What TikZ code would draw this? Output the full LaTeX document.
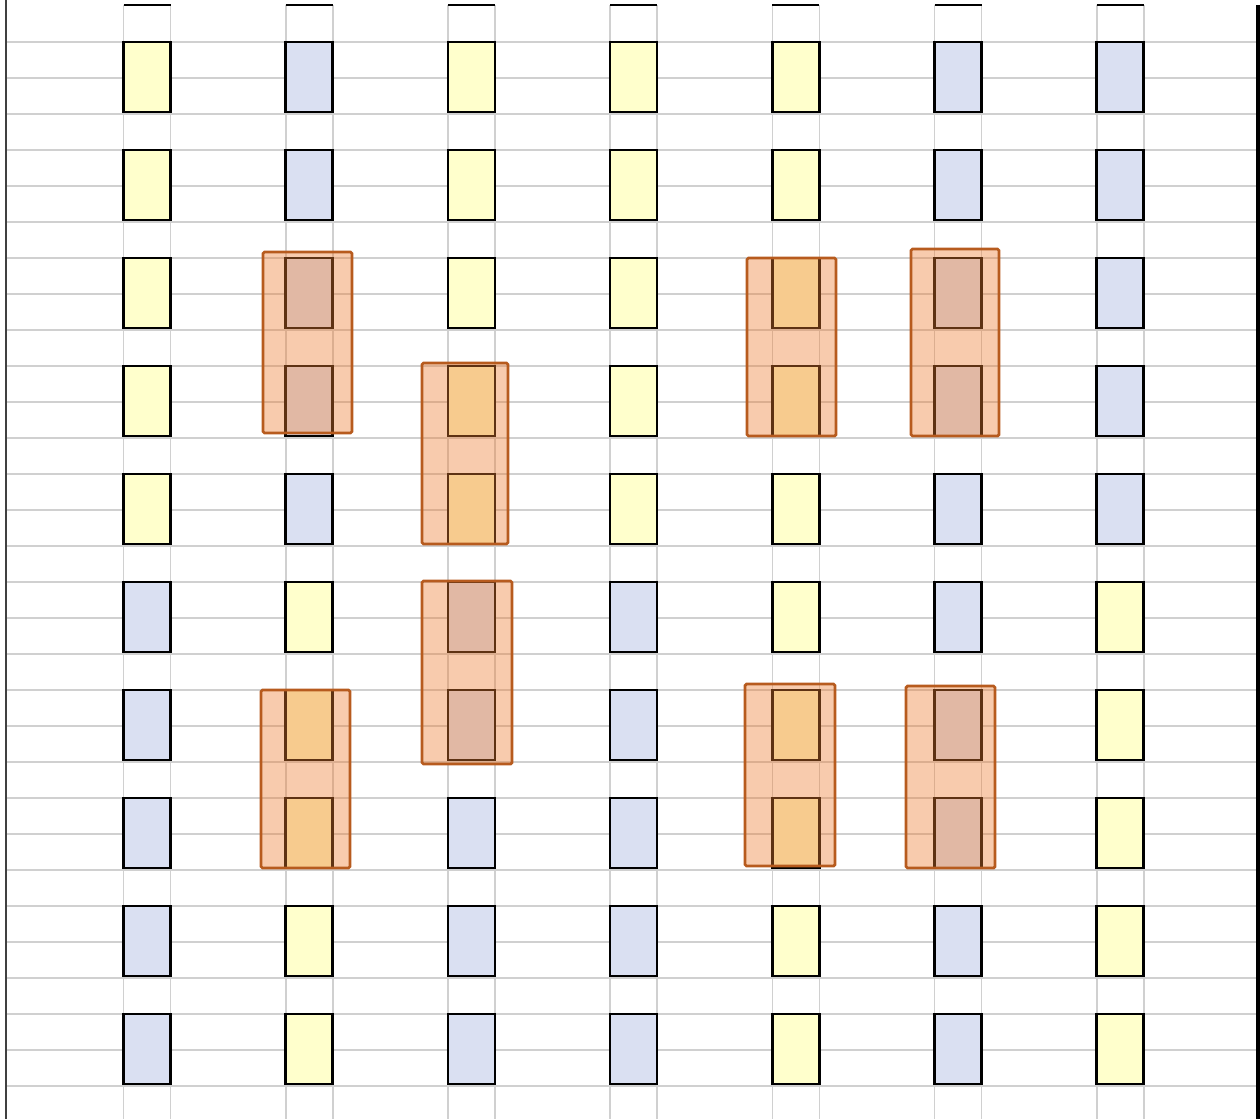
\documentclass[tikz,border=0pt]{standalone}
\usepackage{tikz}
\definecolor{celllemon}{HTML}{FFFFCC}
\definecolor{cellblue}{HTML}{DAE0F2}
\definecolor{gridgray}{HTML}{D0D0D0}
\definecolor{pickorange}{HTML}{ED7D31}
\definecolor{pickedge}{HTML}{B75B1E}
\tikzset{
  cell/.style={draw=black, line width=2.7pt, minimum width=47pt, minimum height=70pt, inner sep=0pt, fill=#1},
  gridline/.style={draw=gridgray, line width=1.6pt},
  pick/.style={fill=pickorange, fill opacity=0.4, draw=pickedge, line width=2.8pt, rounded corners=1.5pt},
}

\begin{document}
\begin{tikzpicture}[x=1pt, y=-1pt]
  \useasboundingbox (0,0) rectangle (1260,1119);
  % sheet grid
  \foreach \k in {0,...,29} { \draw[gridline] (7,42+36*\k) -- (1256,42+36*\k); }
  \foreach \c in {0,...,6} {
    \draw[gridline] (147+162.2*\c-23.5,5) -- (147+162.2*\c-23.5,1119);
    \draw[gridline] (147+162.2*\c+23.5,5) -- (147+162.2*\c+23.5,1119);
    \draw[black, line width=1.1pt] (147+162.2*\c-23.5,5) -- (147+162.2*\c+23.5,5);
  }
  \draw[black!75, line width=2pt] (6,0) -- (6,1119);
  \draw[black, line width=3.2pt] (1258,5) -- (1258,1119);
  % cells, row by row
  \foreach \r/\cols in {0/{celllemon,cellblue,celllemon,celllemon,celllemon,cellblue,cellblue},
                        1/{celllemon,cellblue,celllemon,celllemon,celllemon,cellblue,cellblue},
                        2/{celllemon,cellblue,celllemon,celllemon,celllemon,cellblue,cellblue},
                        3/{celllemon,cellblue,celllemon,celllemon,celllemon,cellblue,cellblue},
                        4/{celllemon,cellblue,celllemon,celllemon,celllemon,cellblue,cellblue},
                        5/{cellblue,celllemon,cellblue,cellblue,celllemon,cellblue,celllemon},
                        6/{cellblue,celllemon,cellblue,cellblue,celllemon,cellblue,celllemon},
                        7/{cellblue,celllemon,cellblue,cellblue,celllemon,cellblue,celllemon},
                        8/{cellblue,celllemon,cellblue,cellblue,celllemon,cellblue,celllemon},
                        9/{cellblue,celllemon,cellblue,cellblue,celllemon,cellblue,celllemon}} {
    \foreach \col [count=\c from 0] in \cols {
      \node[cell=\col] (c\r-\c) at (147+162.2*\c,77+108*\r) {};
    }
  }
  % picked pairs
  \draw[pick] (263,252) rectangle (352,433);
  \draw[pick] (422,363) rectangle (508,544);
  \draw[pick] (747,258) rectangle (836,436);
  \draw[pick] (911,249) rectangle (999,436);
  \draw[pick] (422,581) rectangle (512,764);
  \draw[pick] (261,690) rectangle (350,868);
  \draw[pick] (745,684) rectangle (835,866);
  \draw[pick] (906,686) rectangle (995,868);
\end{tikzpicture}
\end{document}
